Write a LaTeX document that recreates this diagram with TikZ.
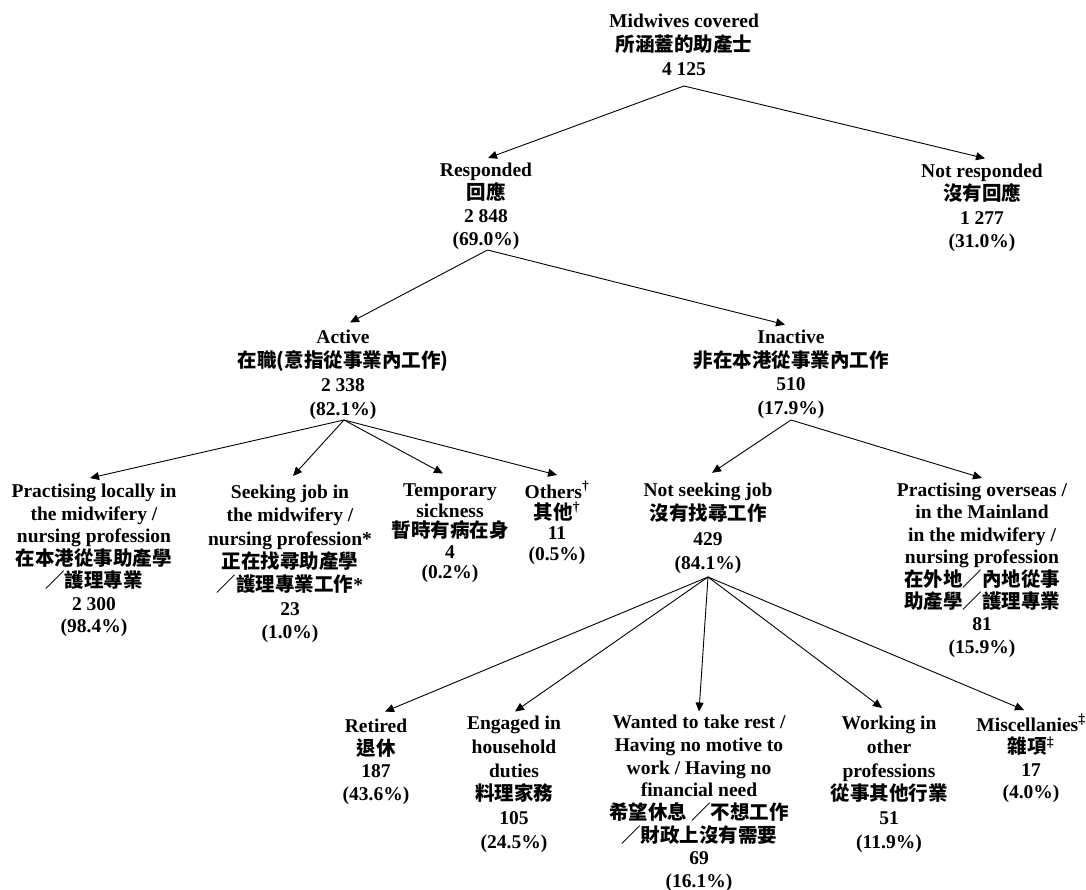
\documentclass[tikz,border=0pt]{standalone}
\usepackage{fontspec}
\setmainfont{Liberation Serif}
\newfontfamily\cjk{Noto Sans CJK TC}
\usetikzlibrary{arrows.meta}
\newcommand\zh[1]{{\cjk #1}}
\begin{document}
\begin{tikzpicture}[x=1pt,y=-1pt,
  lbl/.style={align=center, anchor=base, inner sep=0pt,
    font=\fontsize{19.5}{#1}\selectfont\bfseries},
  lbl/.default=23,
  arr/.style={line width=0.9pt, -{Triangle[length=9pt,width=8pt]}}]
\useasboundingbox (0,0) rectangle (1086,890);

% nodes are placed at the baseline of their last line
% level 0
\node[lbl=24] (root) at (684,76) {Midwives covered\\\zh{所涵蓋的助產士}\\4 125};
% level 1
\node[lbl=23] (resp) at (486,245.5) {Responded\\\zh{回應}\\2 848\\(69.0\%)};
\node[lbl=23.3] (notresp) at (982,247.4) {Not responded\\\zh{沒有回應}\\1 277\\(31.0\%)};
% level 2
\node[lbl=24] (active) at (343,415.5) {Active\\\zh{在職(意指從事業內工作)}\\2 338\\(82.1\%)};
\node[lbl=23.7] (inactive) at (791,414.6) {Inactive\\\zh{非在本港從事業內工作}\\510\\(17.9\%)};
% level 3
\node[lbl=22.5] (practising) at (94,632.5) {Practising locally in\\the midwifery /\\nursing profession\\\zh{在本港從事助產學}\\\zh{／護理專業}\\2 300\\(98.4\%)};
\node[lbl=23.3] (seeking) at (290,638.3) {Seeking job in\\the midwifery /\\nursing profession*\\\zh{正在找尋助產學}\\\zh{／護理專業工作}*\\23\\(1.0\%)};
\node[lbl=20.5] (temporary) at (450,578.5) {Temporary\\sickness\\\zh{暫時有病在身}\\4\\(0.2\%)};
\node[lbl=20.5] (others) at (557,560) {Others\textsuperscript{†}\\\zh{其他}\textsuperscript{†}\\11\\(0.5\%)};
\node[lbl=24.3] (notseek) at (708,569.4) {Not seeking job\\\zh{沒有找尋工作}\\429\\(84.1\%)};
\node[lbl=22.4] (overseas) at (982,653.3) {Practising overseas /\\in the Mainland\\in the midwifery /\\nursing profession\\\zh{在外地／內地從事}\\\zh{助產學／護理專業}\\81\\(15.9\%)};
% level 4
\node[lbl=22.7] (retired) at (376,800.6) {Retired\\\zh{退休}\\187\\(43.6\%)};
\node[lbl=23.8] (engaged) at (514,848.5) {Engaged in\\household\\duties\\\zh{料理家務}\\105\\(24.5\%)};
\node[lbl=22.7] (wanted) at (699,887.5) {Wanted to take rest /\\Having no motive to\\work / Having no\\financial need\\\zh{希望休息 ／不想工作}\\\zh{／財政上沒有需要}\\69\\(16.1\%)};
\node[lbl=23.8] (working) at (889,848.5) {Working in\\other\\professions\\\zh{從事其他行業}\\51\\(11.9\%)};
\node[lbl=22.3] (misc) at (1031,798.4) {Miscellanies\textsuperscript{‡}\\\zh{雜項}\textsuperscript{‡}\\17\\(4.0\%)};

% branch points
\coordinate (rootB) at ([yshift=-10pt]root.base);
\coordinate (respB) at ([shift={(1.5pt,-4.5pt)}]resp.base);
\coordinate (activeB) at ([shift={(1pt,-4.5pt)}]active.base);
\coordinate (inactiveB) at ([yshift=-5.4pt]inactive.base);
\coordinate (notseekB) at ([yshift=-7.6pt]notseek.base);

% connectors
\draw[arr] (rootB) -- ([shift={(2pt,87.5pt)}]resp.base);
\draw[arr] (rootB) -- ([shift={(3pt,89pt)}]notresp.base);
\draw[arr] (respB) -- ([shift={(7pt,93pt)}]active.base);
\draw[arr] (respB) -- ([shift={(-6pt,90pt)}]inactive.base);
\draw[arr] (activeB) -- ([shift={(-4pt,154.5pt)}]practising.base);
\draw[arr] (activeB) -- ([shift={(3pt,162.3pt)}]seeking.base);
\draw[arr] (activeB) -- ([shift={(-7pt,105pt)}]temporary.base);
\draw[arr] (activeB) -- ([shift={(0pt,85pt)}]others.base);
\draw[arr] (inactiveB) -- ([shift={(4pt,96.6pt)}]notseek.base);
\draw[arr] (inactiveB) -- ([shift={(0pt,175.3pt)}]overseas.base);
\draw[arr] (notseekB) -- ([shift={(9pt,89pt)}]retired.base);
\draw[arr] (notseekB) -- ([shift={(1pt,137pt)}]engaged.base);
\draw[arr] (notseekB) -- ([shift={(0pt,176pt)}]wanted.base);
\draw[arr] (notseekB) -- ([shift={(-7pt,140.5pt)}]working.base);
\draw[arr] (notseekB) -- ([shift={(-7pt,88.4pt)}]misc.base);
\end{tikzpicture}
\end{document}
